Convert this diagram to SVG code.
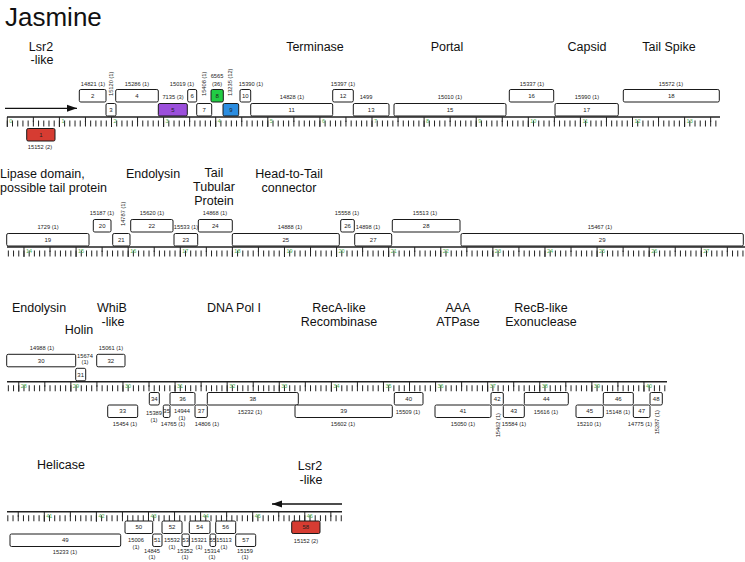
<svg xmlns="http://www.w3.org/2000/svg" width="745" height="562" viewBox="0 0 745 562">
<defs>
<style>
text{font-family:"Liberation Sans",Arial,sans-serif;fill:#111}
.t{font-size:26px}
.h{font-size:12.5px;text-anchor:middle}
.hl{font-size:12.5px}
.n{font-size:6px;text-anchor:middle;fill:#222}
.l{font-size:5.7px;text-anchor:middle;fill:#222}
.v{font-size:5.7px;fill:#222}
.k{font-size:5.5px;fill:#4caf50}
.gene rect{fill:#fff;stroke:#1a1a1a;stroke-width:1}
.base{stroke:#222;stroke-width:1.5}
.minor{stroke:#222;stroke-width:6;stroke-dasharray:1 4.21}
.half{stroke:#222;stroke-width:5;stroke-dasharray:1 51.1}
.major{stroke:#222;stroke-width:10;stroke-dasharray:1 51.1}
.arr{stroke:#111;stroke-width:1.3;fill:none}
</style>
<marker id="ah" markerUnits="userSpaceOnUse" markerWidth="11" markerHeight="8" refX="10" refY="4" orient="auto">
<path d="M0,0.5 L10,4 L0,7.5 z" fill="#111"/>
</marker>
</defs>
<rect width="745" height="562" fill="#fff"/>
<text class="t" x="5" y="26">Jasmine</text>

<g id="headers">
<text class="h" x="41" y="51">Lsr2</text><text class="h" x="42" y="64">-like</text>
<text class="h" x="315" y="51">Terminase</text>
<text class="h" x="447" y="51">Portal</text>
<text class="h" x="587" y="51">Capsid</text>
<text class="h" x="669" y="51">Tail Spike</text>
<text class="hl" x="0" y="178">Lipase domain,</text><text class="hl" x="0" y="192">possible tail protein</text>
<text class="h" x="153" y="178">Endolysin</text>
<text class="h" x="214" y="177">Tail</text><text class="h" x="214" y="191">Tubular</text><text class="h" x="214" y="205">Protein</text>
<text class="h" x="289" y="178">Head-to-Tail</text><text class="h" x="289" y="192">connector</text>
<text class="h" x="39" y="312">Endolysin</text>
<text class="h" x="79" y="334">Holin</text>
<text class="h" x="112" y="312">WhiB</text><text class="h" x="113" y="326">-like</text>
<text class="h" x="234" y="312">DNA Pol I</text>
<text class="h" x="339" y="312">RecA-like</text><text class="h" x="339" y="326">Recombinase</text>
<text class="h" x="458" y="312">AAA</text><text class="h" x="458" y="326">ATPase</text>
<text class="h" x="541" y="312">RecB-like</text><text class="h" x="541" y="326">Exonuclease</text>
<text class="h" x="61" y="469">Helicase</text>
<text class="h" x="310" y="470">Lsr2</text><text class="h" x="311" y="484">-like</text>
</g>

<g id="rulers">
<g id="ruler1">
<line class="base" x1="7" y1="117" x2="720" y2="117"/>
<line class="minor" x1="6.8" y1="123.5" x2="720" y2="123.5"/>
<line class="half" x1="32.85" y1="119.5" x2="720" y2="119.5"/>
<line class="major" x1="6.8" y1="122" x2="720" y2="122"/>
<text class="k" x="9.3" y="123">0</text><text class="k" x="61.4" y="123">1</text><text class="k" x="113.5" y="123">2</text><text class="k" x="165.6" y="123">3</text><text class="k" x="217.7" y="123">4</text><text class="k" x="269.8" y="123">5</text><text class="k" x="321.9" y="123">6</text><text class="k" x="374" y="123">7</text><text class="k" x="426.1" y="123">8</text><text class="k" x="478.2" y="123">9</text><text class="k" x="530.3" y="123">10</text><text class="k" x="582.4" y="123">11</text><text class="k" x="634.5" y="123">12</text><text class="k" x="686.6" y="123">13</text>
</g>
<g id="ruler2">
<line class="base" x1="7" y1="247" x2="745" y2="247"/>
<line class="minor" x1="7.84" y1="253.5" x2="745" y2="253.5"/>
<line class="half" x1="49.52" y1="249.5" x2="745" y2="249.5"/>
<line class="major" x1="23.47" y1="252" x2="745" y2="252"/>
<text class="k" x="25.97" y="253">14</text><text class="k" x="78.07" y="253">15</text><text class="k" x="130.17" y="253">16</text><text class="k" x="182.27" y="253">17</text><text class="k" x="234.37" y="253">18</text><text class="k" x="286.47" y="253">19</text><text class="k" x="338.57" y="253">20</text><text class="k" x="390.67" y="253">21</text><text class="k" x="442.77" y="253">22</text><text class="k" x="494.87" y="253">23</text><text class="k" x="546.97" y="253">24</text><text class="k" x="599.07" y="253">25</text><text class="k" x="651.17" y="253">26</text><text class="k" x="703.27" y="253">27</text>
</g>
<g id="ruler3">
<line class="base" x1="7" y1="381.8" x2="667" y2="381.8"/>
<line class="minor" x1="7.84" y1="388.3" x2="667" y2="388.3"/>
<line class="half" x1="44.31" y1="384.3" x2="667" y2="384.3"/>
<line class="major" x1="18.26" y1="386.8" x2="667" y2="386.8"/>
<text class="k" x="20.76" y="387.8">28</text><text class="k" x="72.86" y="387.8">29</text><text class="k" x="124.96" y="387.8">30</text><text class="k" x="177.06" y="387.8">31</text><text class="k" x="229.16" y="387.8">32</text><text class="k" x="281.26" y="387.8">33</text><text class="k" x="333.36" y="387.8">34</text><text class="k" x="385.46" y="387.8">35</text><text class="k" x="437.56" y="387.8">36</text><text class="k" x="489.66" y="387.8">37</text><text class="k" x="541.76" y="387.8">38</text><text class="k" x="593.86" y="387.8">39</text><text class="k" x="645.96" y="387.8">40</text>
</g>
<g id="ruler4">
<line class="base" x1="7" y1="511.7" x2="342" y2="511.7"/>
<line class="minor" x1="7.32" y1="518.2" x2="342" y2="518.2"/>
<line class="half" x1="17.74" y1="514.2" x2="342" y2="514.2"/>
<line class="major" x1="43.79" y1="516.7" x2="342" y2="516.7"/>
<text class="k" x="46.29" y="517.7">41</text><text class="k" x="98.39" y="517.7">42</text><text class="k" x="150.49" y="517.7">43</text><text class="k" x="202.59" y="517.7">44</text><text class="k" x="254.69" y="517.7">45</text><text class="k" x="306.79" y="517.7">46</text>
</g>
</g>

<g id="connectors">
<line class="arr" x1="5" y1="108.3" x2="77" y2="108.3" marker-end="url(#ah)"/>
<line class="arr" x1="342" y1="504" x2="272" y2="504" marker-end="url(#ah)"/>
</g>

<g id="genes">
<g id="g1" class="gene"><rect x="26.7" y="128.5" width="28.3" height="12.5" rx="1.5" style="fill:#d63c32"/><text class="n" x="40.85" y="136.9">1</text><text class="l" x="40" y="149">15152 (2)</text></g>
<g id="g2" class="gene"><rect x="79.3" y="89.5" width="26.7" height="12.5" rx="1.5"/><text class="n" x="92.65" y="97.9">2</text><text class="l" x="93" y="85.5">14821 (1)</text></g>
<g id="g3" class="gene"><rect x="106" y="103.5" width="10" height="12.5" rx="1.5"/><text class="n" x="111" y="111.9">3</text><text class="v" transform="translate(113,96) rotate(-90)">15120 (1)</text></g>
<g id="g4" class="gene"><rect x="115.7" y="89.5" width="42.6" height="12.5" rx="1.5"/><text class="n" x="137" y="97.9">4</text><text class="l" x="137" y="85.5">15286 (1)</text></g>
<g id="g5" class="gene"><rect x="158.3" y="103.5" width="29" height="12.5" rx="1.5" style="fill:#9b4fdb"/><text class="n" x="172.8" y="111.9">5</text><text class="l" x="173" y="99">7135 (3)</text></g>
<g id="g6" class="gene"><rect x="187.7" y="89.5" width="9" height="12.5" rx="1.5"/><text class="n" x="192.2" y="97.9">6</text><text class="l" x="182" y="85.5">15019 (1)</text></g>
<g id="g7" class="gene"><rect x="196.7" y="103.5" width="15" height="12.5" rx="1.5"/><text class="n" x="204.2" y="111.9">7</text><text class="v" transform="translate(206,96) rotate(-90)">15408 (1)</text></g>
<g id="g8" class="gene"><rect x="211" y="89.5" width="12.3" height="12.5" rx="1.5" style="fill:#22cc44"/><text class="n" x="217.15" y="97.9">8</text><text class="l" x="217" y="78">6565</text><text class="l" x="217" y="85.5">(36)</text></g>
<g id="g9" class="gene"><rect x="223" y="103.5" width="15.7" height="12.5" rx="1.5" style="fill:#2b8de0"/><text class="n" x="230.85" y="111.9">9</text><text class="v" transform="translate(232,96) rotate(-90)">13235 (12)</text></g>
<g id="g10" class="gene"><rect x="240" y="89.5" width="10.7" height="12.5" rx="1.5"/><text class="n" x="245.35" y="97.9">10</text><text class="l" x="251" y="85.5">15390 (1)</text></g>
<g id="g11" class="gene"><rect x="250.7" y="103.5" width="82" height="12.5" rx="1.5"/><text class="n" x="291.7" y="111.9">11</text><text class="l" x="292" y="99">14828 (1)</text></g>
<g id="g12" class="gene"><rect x="332.7" y="89.5" width="20.6" height="12.5" rx="1.5"/><text class="n" x="343" y="97.9">12</text><text class="l" x="343" y="85.5">15397 (1)</text></g>
<g id="g13" class="gene"><rect x="353.3" y="103.5" width="35.7" height="12.5" rx="1.5"/><text class="n" x="371.15" y="111.9">13</text><text class="l" x="366" y="99">1499</text></g>
<g id="g15" class="gene"><rect x="394" y="103.5" width="112" height="12.5" rx="1.5"/><text class="n" x="450" y="111.9">15</text><text class="l" x="450" y="99">15010 (1)</text></g>
<g id="g16" class="gene"><rect x="509.3" y="89.5" width="44.4" height="12.5" rx="1.5"/><text class="n" x="531.5" y="97.9">16</text><text class="l" x="532" y="85.5">15337 (1)</text></g>
<g id="g17" class="gene"><rect x="555" y="103.5" width="63.3" height="12.5" rx="1.5"/><text class="n" x="586.65" y="111.9">17</text><text class="l" x="587" y="99">15990 (1)</text></g>
<g id="g18" class="gene"><rect x="623.3" y="89.5" width="96" height="12.5" rx="1.5"/><text class="n" x="671.3" y="97.9">18</text><text class="l" x="671" y="85.5">15572 (1)</text></g>
<g id="g19" class="gene"><rect x="6.7" y="233.5" width="82.3" height="12.5" rx="1.5"/><text class="n" x="47.85" y="241.9">19</text><text class="l" x="48" y="229">1729 (1)</text></g>
<g id="g20" class="gene"><rect x="93.3" y="219.5" width="17.7" height="12.5" rx="1.5"/><text class="n" x="102.15" y="227.9">20</text><text class="l" x="102" y="215">15187 (1)</text></g>
<g id="g21" class="gene"><rect x="112.7" y="233.5" width="17.3" height="12.5" rx="1.5"/><text class="n" x="121.35" y="241.9">21</text><text class="v" transform="translate(125,226) rotate(-90)">14787 (1)</text></g>
<g id="g22" class="gene"><rect x="130.7" y="219.5" width="42.3" height="12.5" rx="1.5"/><text class="n" x="151.85" y="227.9">22</text><text class="l" x="152" y="215">15620 (1)</text></g>
<g id="g23" class="gene"><rect x="174" y="233.5" width="23.7" height="12.5" rx="1.5"/><text class="n" x="185.85" y="241.9">23</text><text class="l" x="186" y="229">15533 (1)</text></g>
<g id="g24" class="gene"><rect x="198.3" y="219.5" width="34" height="12.5" rx="1.5"/><text class="n" x="215.3" y="227.9">24</text><text class="l" x="215" y="215">14868 (1)</text></g>
<g id="g25" class="gene"><rect x="232.3" y="233.5" width="107" height="12.5" rx="1.5"/><text class="n" x="285.8" y="241.9">25</text><text class="l" x="290" y="229">14888 (1)</text></g>
<g id="g26" class="gene"><rect x="340.7" y="219.5" width="13.6" height="12.5" rx="1.5"/><text class="n" x="347.5" y="227.9">26</text><text class="l" x="347" y="215">15558 (1)</text></g>
<g id="g27" class="gene"><rect x="354.7" y="233.5" width="37" height="12.5" rx="1.5"/><text class="n" x="373.2" y="241.9">27</text><text class="l" x="368" y="229">14898 (1)</text></g>
<g id="g28" class="gene"><rect x="392.3" y="219.5" width="67.7" height="12.5" rx="1.5"/><text class="n" x="426.15" y="227.9">28</text><text class="l" x="425" y="215">15513 (1)</text></g>
<g id="g29" class="gene"><rect x="461" y="233.5" width="282.3" height="12.5" rx="1.5"/><text class="n" x="602.15" y="241.9">29</text><text class="l" x="600" y="229">15467 (1)</text></g>
<g id="g30" class="gene"><rect x="6.7" y="354.3" width="69" height="12.5" rx="1.5"/><text class="n" x="41.2" y="362.7">30</text><text class="l" x="42" y="350">14988 (1)</text></g>
<g id="g31" class="gene"><rect x="75.7" y="368.3" width="10" height="12.5" rx="1.5"/><text class="n" x="80.7" y="376.7">31</text><text class="l" x="85" y="357.5">15674</text><text class="l" x="85" y="364">(1)</text></g>
<g id="g32" class="gene"><rect x="96.7" y="354.3" width="28.3" height="12.5" rx="1.5"/><text class="n" x="110.85" y="362.7">32</text><text class="l" x="111" y="350">15061 (1)</text></g>
<g id="g33" class="gene"><rect x="107.7" y="405" width="30" height="12.5" rx="1.5"/><text class="n" x="122.7" y="413.4">33</text><text class="l" x="125" y="425.5">15454 (1)</text></g>
<g id="g34" class="gene"><rect x="149.3" y="392.5" width="10" height="12.5" rx="1.5"/><text class="n" x="154.3" y="400.9">34</text><text class="l" x="154" y="414.5">15389</text><text class="l" x="154" y="421.5">(1)</text></g>
<g id="g35" class="gene"><rect x="163.3" y="405" width="6.7" height="12.5" rx="1.5"/><text class="n" x="166.65" y="413.4">35</text><text class="l" x="173" y="425.5">14765 (1)</text></g>
<g id="g36" class="gene"><rect x="170" y="392.5" width="25" height="12.5" rx="1.5"/><text class="n" x="182.5" y="400.9">36</text><text class="l" x="182" y="413">14944</text><text class="l" x="182" y="419.5">(1)</text></g>
<g id="g37" class="gene"><rect x="195" y="405" width="12.3" height="12.5" rx="1.5"/><text class="n" x="201.15" y="413.4">37</text><text class="l" x="207" y="425.5">14806 (1)</text></g>
<g id="g38" class="gene"><rect x="207.3" y="392.5" width="91" height="12.5" rx="1.5"/><text class="n" x="252.8" y="400.9">38</text><text class="l" x="250" y="413.5">15232 (1)</text></g>
<g id="g39" class="gene"><rect x="295" y="405" width="97.3" height="12.5" rx="1.5"/><text class="n" x="343.65" y="413.4">39</text><text class="l" x="343" y="425.5">15602 (1)</text></g>
<g id="g40" class="gene"><rect x="394.3" y="392.5" width="28.7" height="12.5" rx="1.5"/><text class="n" x="408.65" y="400.9">40</text><text class="l" x="408" y="413.5">15509 (1)</text></g>
<g id="g41" class="gene"><rect x="435" y="405" width="56" height="12.5" rx="1.5"/><text class="n" x="463" y="413.4">41</text><text class="l" x="463" y="425.5">15050 (1)</text></g>
<g id="g42" class="gene"><rect x="491" y="392.5" width="12.3" height="12.5" rx="1.5"/><text class="n" x="497.15" y="400.9">42</text><text class="v" text-anchor="end" transform="translate(499.5,413) rotate(-90)">15462 (1)</text></g>
<g id="g43" class="gene"><rect x="503.3" y="405" width="21" height="12.5" rx="1.5"/><text class="n" x="513.8" y="413.4">43</text><text class="l" x="514" y="425.5">15584 (1)</text></g>
<g id="g44" class="gene"><rect x="524.3" y="392.5" width="44" height="12.5" rx="1.5"/><text class="n" x="546.3" y="400.9">44</text><text class="l" x="546" y="413.5">15616 (1)</text></g>
<g id="g45" class="gene"><rect x="576" y="405" width="27.3" height="12.5" rx="1.5"/><text class="n" x="589.65" y="413.4">45</text><text class="l" x="589" y="425.5">15210 (1)</text></g>
<g id="g46" class="gene"><rect x="603.3" y="392.5" width="30" height="12.5" rx="1.5"/><text class="n" x="618.3" y="400.9">46</text><text class="l" x="618" y="413.5">15148 (1)</text></g>
<g id="g47" class="gene"><rect x="633.3" y="405" width="16.7" height="12.5" rx="1.5"/><text class="n" x="641.65" y="413.4">47</text><text class="l" x="640" y="425.5">14775 (1)</text></g>
<g id="g48" class="gene"><rect x="650" y="392.5" width="12.3" height="12.5" rx="1.5"/><text class="n" x="656.15" y="400.9">48</text><text class="v" text-anchor="end" transform="translate(659,410) rotate(-90)">15287 (1)</text></g>
<g id="g49" class="gene"><rect x="10" y="534" width="110.7" height="12.5" rx="1.5"/><text class="n" x="65.35" y="542.4">49</text><text class="l" x="65" y="553.5">15233 (1)</text></g>
<g id="g50" class="gene"><rect x="125" y="521" width="27.7" height="12.5" rx="1.5"/><text class="n" x="138.85" y="529.4">50</text><text class="l" x="136" y="542">15006</text><text class="l" x="136" y="548.5">(1)</text></g>
<g id="g51" class="gene"><rect x="152.7" y="534" width="9.3" height="12.5" rx="1.5"/><text class="n" x="157.35" y="542.4">51</text><text class="l" x="152" y="552.5">14845</text><text class="l" x="152" y="559">(1)</text></g>
<g id="g52" class="gene"><rect x="162" y="521" width="20" height="12.5" rx="1.5"/><text class="n" x="172" y="529.4">52</text><text class="l" x="172" y="542">15532</text><text class="l" x="172" y="548.5">(1)</text></g>
<g id="g53" class="gene"><rect x="182" y="534" width="7.3" height="12.5" rx="1.5"/><text class="n" x="185.65" y="542.4">53</text><text class="l" x="185" y="552.5">15352</text><text class="l" x="185" y="559">(1)</text></g>
<g id="g54" class="gene"><rect x="189.3" y="521" width="20.7" height="12.5" rx="1.5"/><text class="n" x="199.65" y="529.4">54</text><text class="l" x="199" y="542">15321</text><text class="l" x="199" y="548.5">(1)</text></g>
<g id="g55" class="gene"><rect x="210" y="534" width="5.7" height="12.5" rx="1.5"/><text class="n" x="212.85" y="542.4">55</text><text class="l" x="212" y="552.5">15314</text><text class="l" x="212" y="559">(1)</text></g>
<g id="g56" class="gene"><rect x="215.7" y="521" width="20" height="12.5" rx="1.5"/><text class="n" x="225.7" y="529.4">56</text><text class="l" x="224" y="542">15113</text><text class="l" x="224" y="548.5">(1)</text></g>
<g id="g57" class="gene"><rect x="235.7" y="534" width="20" height="12.5" rx="1.5"/><text class="n" x="245.7" y="542.4">57</text><text class="l" x="245" y="552.5">15159</text><text class="l" x="245" y="559">(1)</text></g>
<g id="g58" class="gene"><rect x="291.7" y="521" width="28.3" height="12.5" rx="1.5" style="fill:#d63c32"/><text class="n" x="305.85" y="529.4">58</text><text class="l" x="306" y="543">15152 (2)</text></g>
</g>
</svg>
